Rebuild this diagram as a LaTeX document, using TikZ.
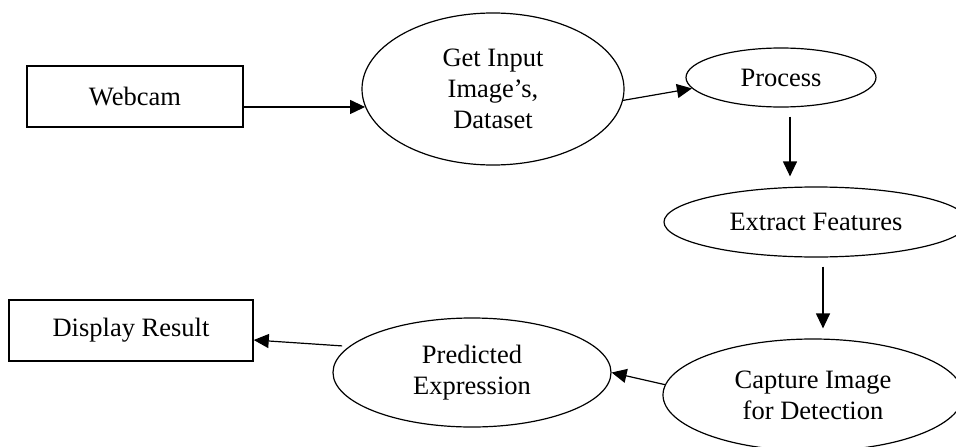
\documentclass[tikz,border=0pt]{standalone}
\usepackage{fontspec}
\setmainfont{Liberation Serif}
\usetikzlibrary{shapes.geometric,arrows.meta}
\tikzset{
  box/.style={draw, line width=1.5pt, rectangle, inner sep=0pt, font=\fontsize{26.5}{31}\selectfont},
  oval/.style={draw, line width=1.2pt, ellipse, inner sep=0pt, align=center, font=\fontsize{26.5}{31}\selectfont},
  arr/.style={line width=1.2pt, -{Triangle[length=15pt,width=14pt]}}
}
\begin{document}
\begin{tikzpicture}[x=1pt,y=-1pt]
\useasboundingbox (0,0) rectangle (956,447);
\node[box, minimum width=216pt, minimum height=61pt] (web) at (135,96.5) {Webcam};
\node[oval, minimum width=262pt, minimum height=152pt] (gi) at (493,89) {Get Input\\Image’s,\\Dataset};
\node[oval, minimum width=190pt, minimum height=59pt] (pr) at (781,77.5) {Process};
\node[oval, minimum width=304pt, minimum height=70pt] (ex) at (816,222) {Extract Features};
\node[oval, minimum width=300pt, minimum height=112pt] (cap) at (813,395) {Capture Image\\for Detection};
\node[oval, minimum width=278pt, minimum height=109pt] (pred) at (472,372.5) {Predicted\\Expression};
\node[box, minimum width=244pt, minimum height=61pt] (disp) at (131,330.5) {Display Result};

\draw[arr] (gi.188 -| web.east) -- (gi.188);
\draw[arr] (gi.-5) -- (pr.187);
\draw[arr, shorten <=9pt, shorten >=10pt] ([xshift=9pt]pr.south) -- ([xshift=9pt]pr.south |- ex.north);
\draw[arr, shorten <=9pt, shorten >=10pt] ([xshift=7pt]ex.south) -- ([xshift=7pt]ex.south |- cap.north);
\draw[arr] (cap.176) -- (pred.east);
\draw[arr, shorten <=7pt] (pred.168) -- ([yshift=-9.5pt]disp.east);
\end{tikzpicture}
\end{document}
